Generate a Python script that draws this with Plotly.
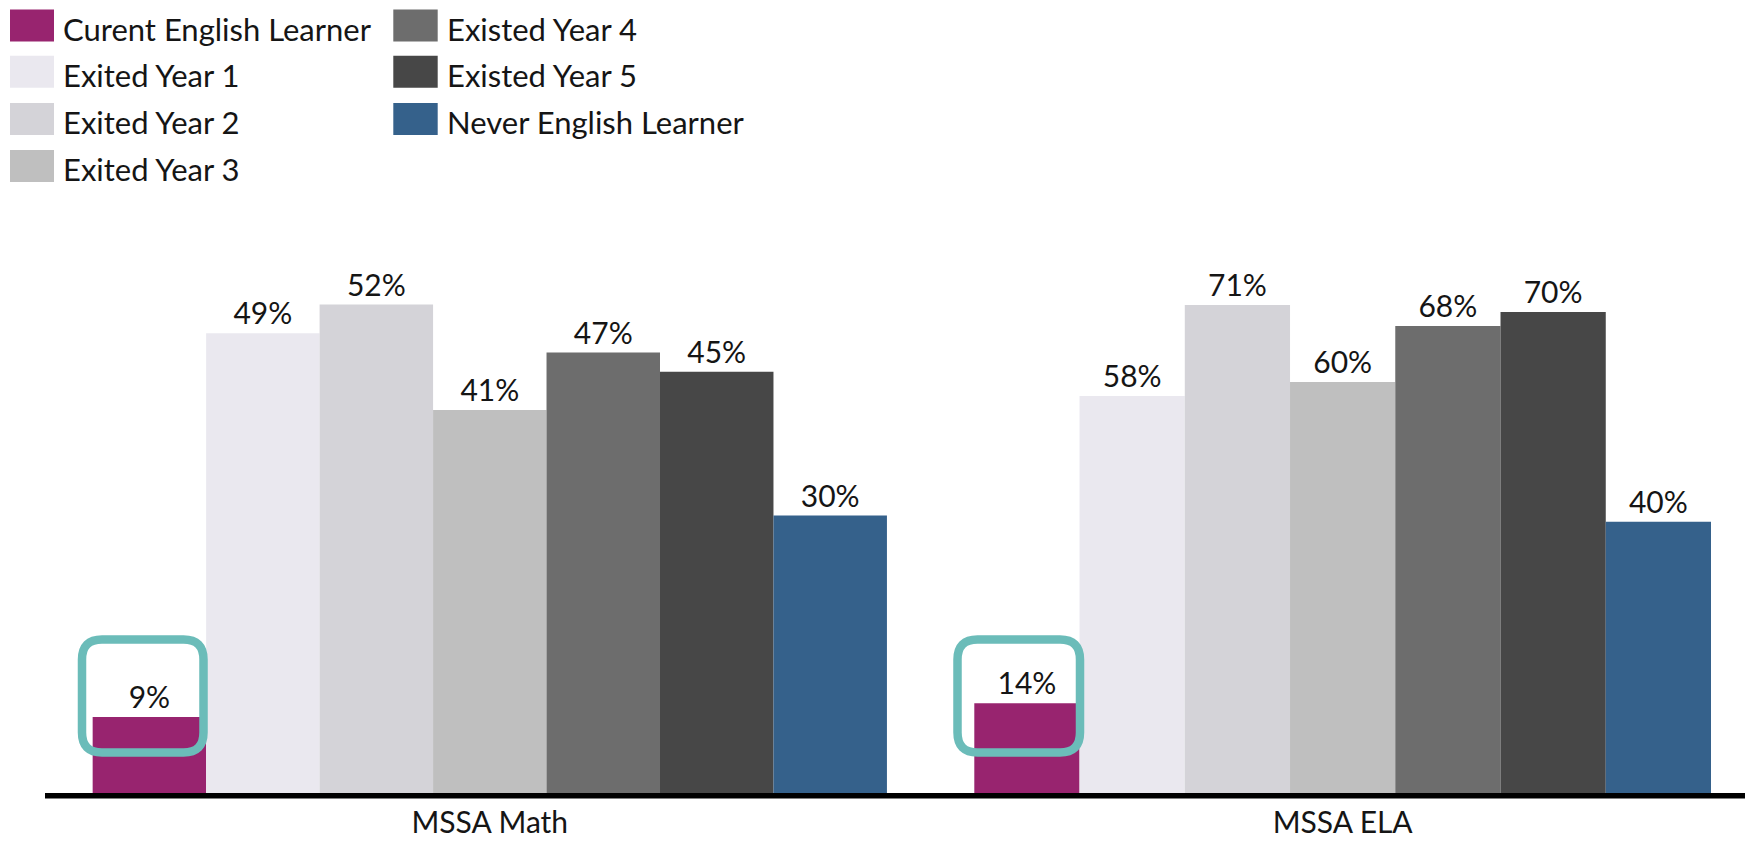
import plotly.graph_objects as go

# Canvas size (px)
W, H = 1745, 841

# ---- data -------------------------------------------------------------
subjects = ["MSSA Math", "MSSA ELA"]
groups = [
    "Curent English Learner",
    "Exited Year 1",
    "Exited Year 2",
    "Exited Year 3",
    "Existed Year 4",
    "Existed Year 5",
    "Never English Learner",
]
colors = ["#98246F", "#EAE8EF", "#D4D3D8", "#BFBFBF", "#6D6D6D", "#474747", "#35618B"]
math_pct = [9, 49, 52, 41, 47, 45, 30]
ela_pct = [14, 58, 71, 60, 68, 70, 40]

FONT = "Lato"
INK = "#151515"
TEAL = "#6BBCB9"


def px(x):
    return x / W


def py(y):
    return 1 - y / H


# plot area (pixels)
PLOT_TOP, PLOT_BOTTOM = 250, 793
BARGAP = 0.0845

fig = go.Figure()

series = [(subjects[0], math_pct, "x", "y"), (subjects[1], ela_pct, "x2", "y2")]
for subject, values, xa, ya in series:
    for name, color, v in zip(groups, colors, values):
        fig.add_trace(go.Bar(
            x=[subject], y=[v], name=name,
            marker=dict(color=color, line=dict(width=0)),
            text=[f"{v}%"], textposition="outside",
            textfont=dict(family=FONT, size=30, color=INK),
            offsetgroup=name, xaxis=xa, yaxis=ya,
            showlegend=False, cliponaxis=False,
        ))

ydom = [py(PLOT_BOTTOM), py(PLOT_TOP)]
axis_common = dict(showgrid=False, zeroline=False, showline=False, ticks="",
                   tickfont=dict(family=FONT, size=30, color=INK),
                   automargin=False, fixedrange=True)
yaxis_common = dict(showgrid=False, zeroline=False, showline=False,
                    showticklabels=False, ticks="", domain=ydom,
                    automargin=False)

fig.update_layout(
    width=W, height=H,
    margin=dict(l=0, r=0, t=0, b=0),
    paper_bgcolor="white", plot_bgcolor="white",
    barmode="group", bargap=BARGAP, bargroupgap=0,
    xaxis=dict(domain=[px(56), px(923.6)], anchor="y",
               ticklabelstandoff=9, **axis_common),
    xaxis2=dict(domain=[px(940.3), 1.0], anchor="y2",
                ticklabelstandoff=9, **axis_common),
    yaxis=dict(range=[1.07, 57.69], anchor="x", **yaxis_common),
    yaxis2=dict(range=[1.17, 78.89], anchor="x2", **yaxis_common),
)

shapes = []
# baseline running under both groups
shapes.append(dict(type="line", xref="paper", yref="paper",
                   x0=px(45), x1=1.0, y0=py(795.8), y1=py(795.8),
                   line=dict(color="black", width=5.5), layer="above"))


def rounded_rect(x0, y0, x1, y1, r):
    # x/y in pixels, converted to paper coordinates
    pts = [
        f"M {px(x0 + r)},{py(y0)}",
        f"L {px(x1 - r)},{py(y0)}",
        f"Q {px(x1)},{py(y0)} {px(x1)},{py(y0 + r)}",
        f"L {px(x1)},{py(y1 - r)}",
        f"Q {px(x1)},{py(y1)} {px(x1 - r)},{py(y1)}",
        f"L {px(x0 + r)},{py(y1)}",
        f"Q {px(x0)},{py(y1)} {px(x0)},{py(y1 - r)}",
        f"L {px(x0)},{py(y0 + r)}",
        f"Q {px(x0)},{py(y0)} {px(x0 + r)},{py(y0)}",
        "Z",
    ]
    return " ".join(pts)


# highlight boxes around the current-learner bars
for bx0, bx1 in [(82, 203.5), (957.5, 1080)]:
    shapes.append(dict(type="path", xref="paper", yref="paper",
                       path=rounded_rect(bx0, 639.5, bx1, 752.5, 20),
                       line=dict(color=TEAL, width=8.5), layer="above"))

# legend: two columns of swatches + labels
annotations = []
col_x = [(10, 54, 61), (393.3, 437.7, 445)]
row_y = [25.5, 71.7, 119, 166]
layout_slots = [(0, 0), (0, 1), (0, 2), (0, 3), (1, 0), (1, 1), (1, 2)]
for name, color, (c, r) in zip(groups, colors, layout_slots):
    sx0, sx1, tx = col_x[c]
    cy = row_y[r]
    shapes.append(dict(type="rect", xref="paper", yref="paper",
                       x0=px(sx0), x1=px(sx1), y0=py(cy + 16), y1=py(cy - 16),
                       fillcolor=color, line=dict(width=0)))
    annotations.append(dict(xref="paper", yref="paper", x=px(tx), y=py(cy + 3),
                            xanchor="left", yanchor="middle", showarrow=False,
                            text=name, font=dict(family=FONT, size=31, color=INK)))

fig.update_layout(shapes=shapes, annotations=annotations)

fig.write_html("out.html")
